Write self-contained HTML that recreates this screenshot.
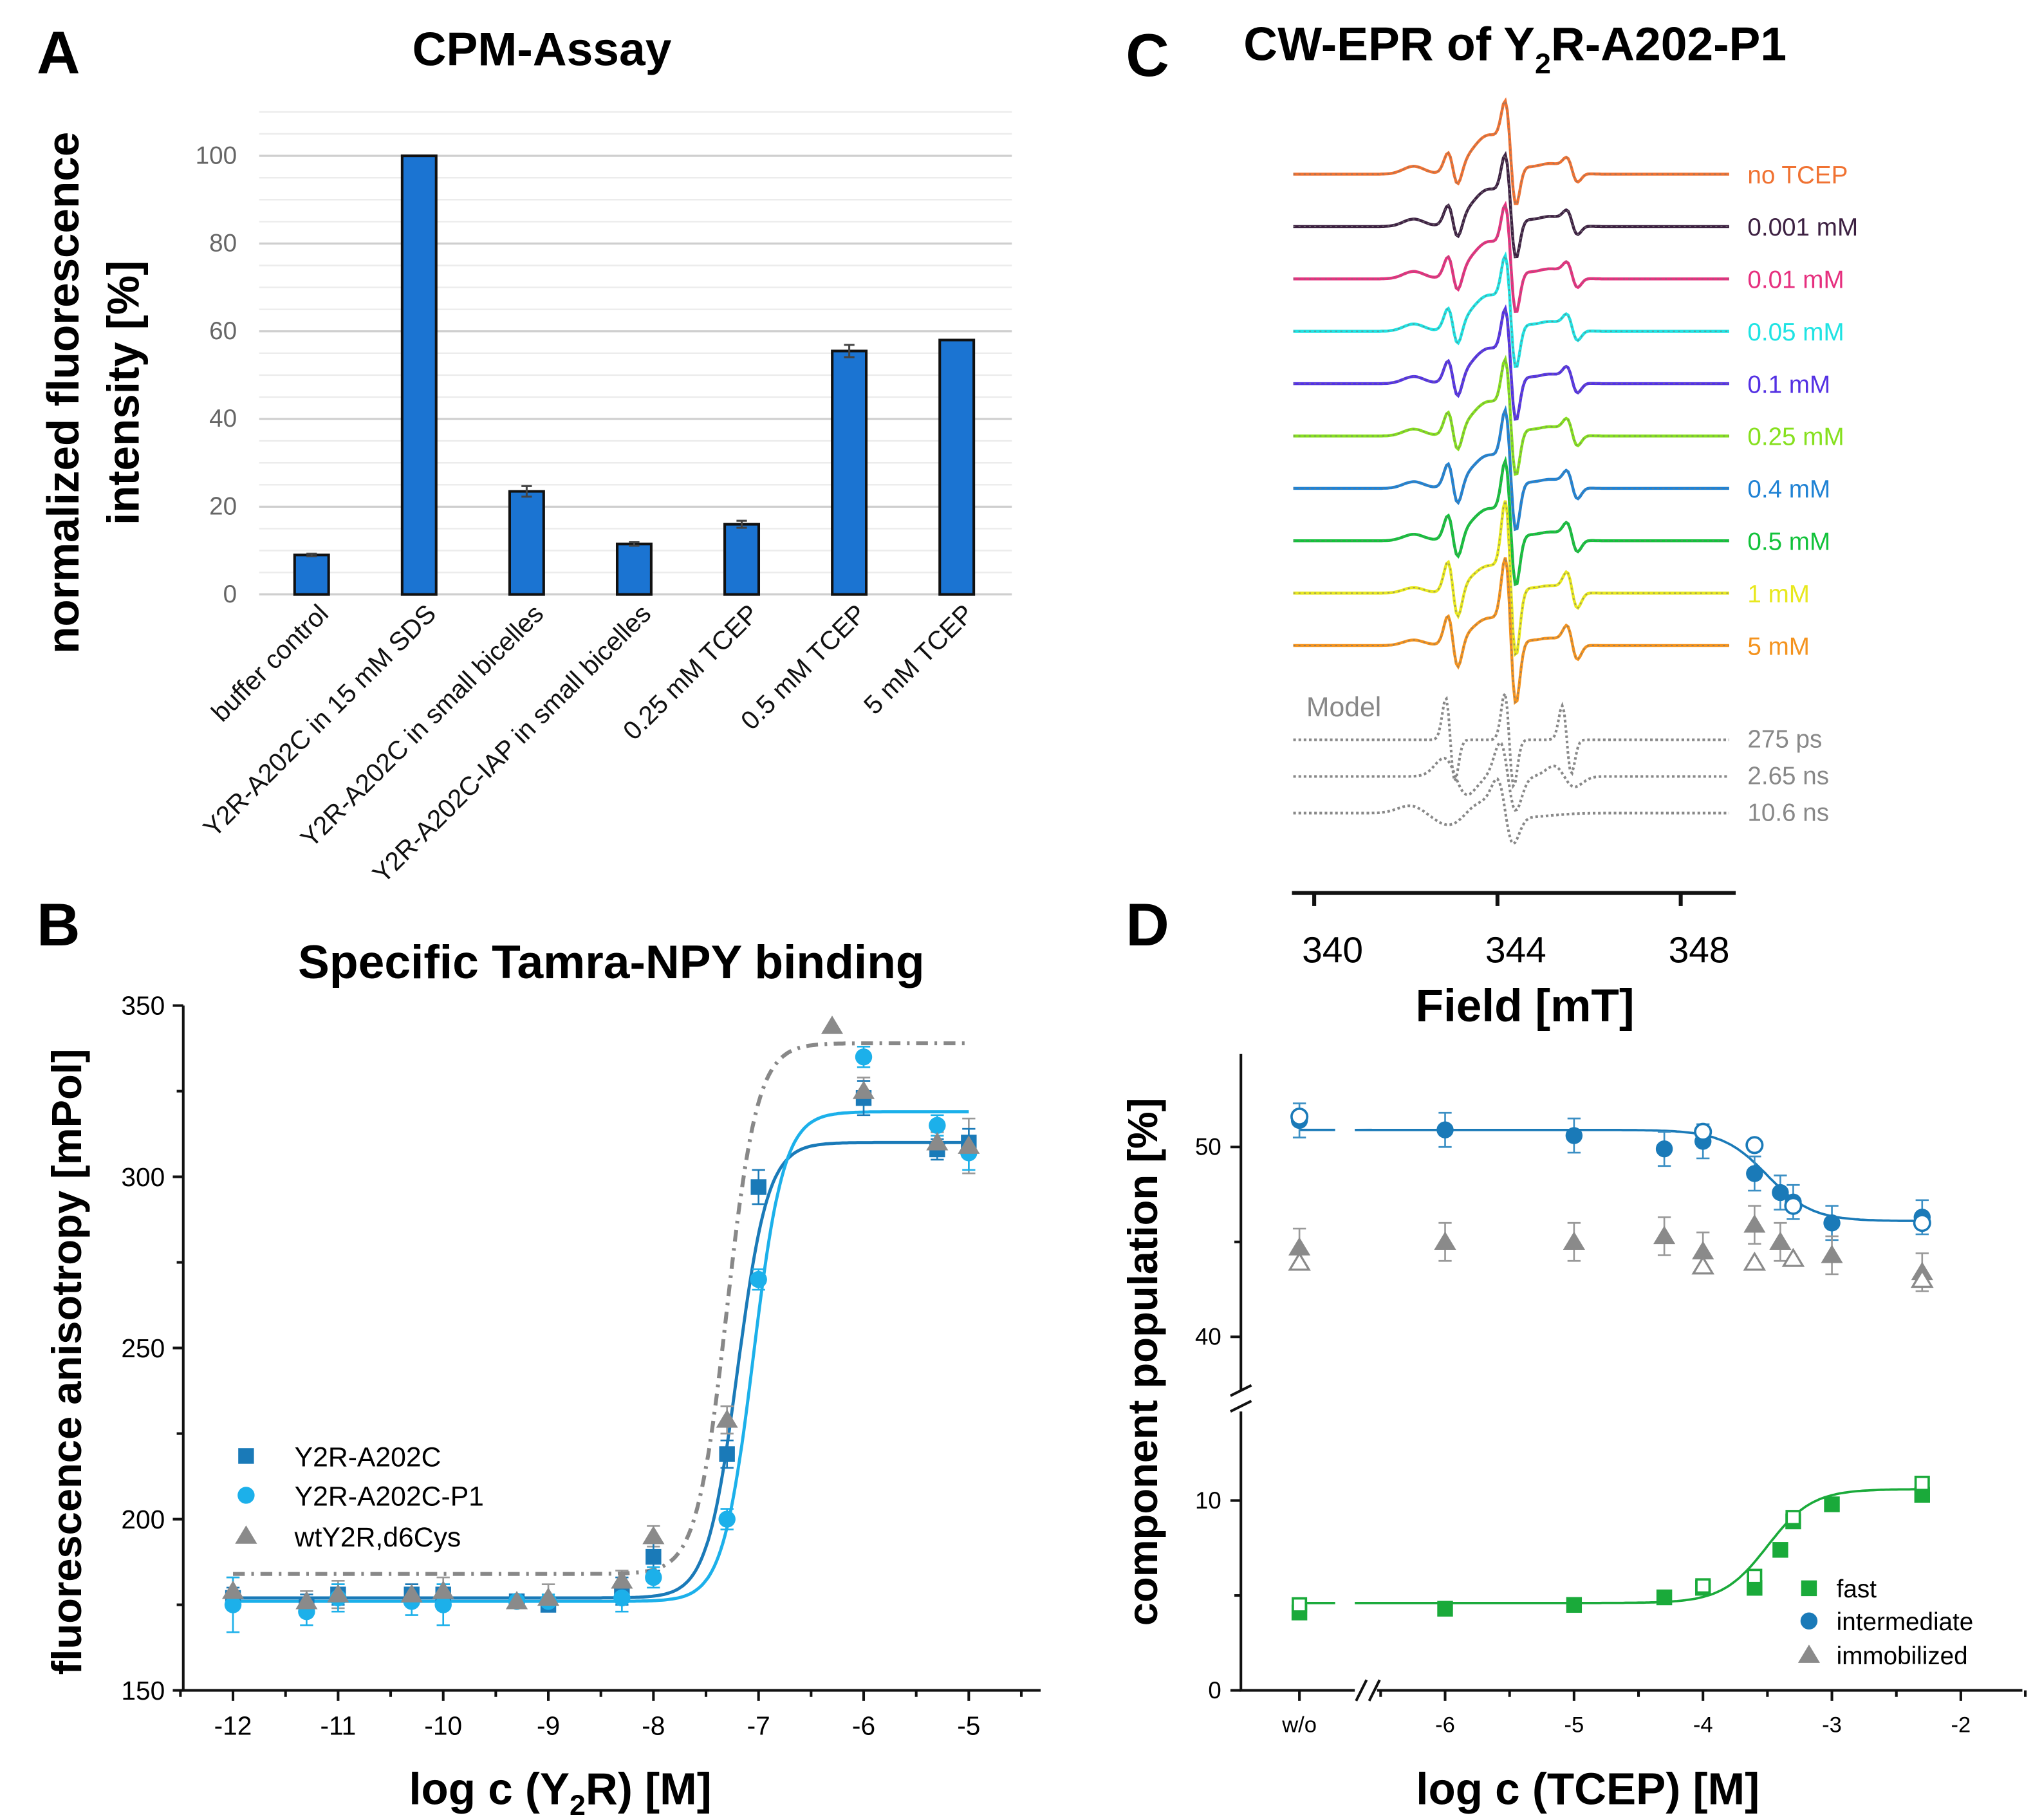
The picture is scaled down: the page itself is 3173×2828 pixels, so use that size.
<!DOCTYPE html>
<html><head><meta charset="utf-8">
<style>
html,body{margin:0;padding:0;background:#fff;}
svg{display:block;font-family:"Liberation Sans",Arial,sans-serif;}
</style></head>
<body>
<svg id="fig" width="3173" height="2828" viewBox="0 0 1560 1390" preserveAspectRatio="none" xmlns="http://www.w3.org/2000/svg">
<rect width="1560" height="1390" fill="#fff"/>
<text x="28" y="56" font-size="46" font-weight="bold">A</text>
<text x="414" y="50" font-size="36" font-weight="bold" text-anchor="middle">CPM-Assay</text>
<text x="860" y="58" font-size="46" font-weight="bold">C</text>
<text x="950" y="46" font-size="36" font-weight="bold">CW-EPR of Y<tspan font-size="22" dy="10">2</tspan><tspan dy="-10">R-A202-P1</tspan></text>
<text x="28" y="722" font-size="46" font-weight="bold">B</text>
<text x="467" y="747" font-size="36" font-weight="bold" text-anchor="middle">Specific Tamra-NPY binding</text>
<text x="860" y="722" font-size="46" font-weight="bold">D</text>
<g id="A"></g><g id="B"></g><g id="C"></g><g id="D"></g>
</svg>
<script>
// ---------- Panel A data ----------
const aCategories = ["buffer control","Y2R-A202C in 15 mM SDS","Y2R-A202C in small bicelles","Y2R-A202C-IAP in small bicelles","0.25 mM TCEP","0.5 mM TCEP","5 mM TCEP"];
const aValues = [9, 100, 23.5, 11.5, 16, 55.5, 58];
const aErrors = [0.3, 0, 1.2, 0.4, 0.8, 1.4, 0];
const aTicks = [0, 20, 40, 60, 80, 100];

// ---------- Panel B data ----------
const bTicksX = [-12,-11,-10,-9,-8,-7,-6,-5];
const bTicksY = [150,200,250,300,350];
const bX1 = [-12,-11.3,-11,-10.3,-10,-9.3,-9,-8.3,-8,-7.3,-7,-6,-5.3,-5];
const bA202C = [177,175,178,178,178,176,175,179,189,219,297,323,308,310];
const bA202CErr = [3,3,3,3,3,2,2,4,4,4,5,5,3,4];
const bP1 = [175,173,177,176,175,176,176,177,183,200,270,335,315,307];
const bP1Err = [8,4,4,4,6,2,2,4,3,3,3,3,3,5];
const bX3 = [-12,-11.3,-11,-10.3,-10,-9.3,-9,-8.3,-8,-7.3,-6.3,-6,-5.3,-5];
const bWt = [179,176,178,178,179,176,177,182,195,229,344,325,310,309];
const bWtErr = [4,3,4,3,4,2,4,3,3,4,0,4,3,8];
const bFitA202C = [177,310,-7.2,3];
const bFitP1 = [176,319,-7.05,3];
const bFitWt = [184,339,-7.3,3];

// ---------- Panel C data ----------
const cLabels = ["no TCEP","0.001 mM","0.01 mM","0.05 mM","0.1 mM","0.25 mM","0.4 mM","0.5 mM","1 mM","5 mM"];
const cColors = ["#f07232","#3d2142","#e6307f","#1fe3e3","#5431e3","#86e01e","#1f82d4","#12c23a","#e8e81e","#f4931e"];
const cSharp = [1.0,1.0,1.05,1.1,1.1,1.15,1.2,1.25,1.6,1.5];
const cBroad = [1.0,0.95,0.95,0.92,0.9,0.88,0.85,0.82,0.7,0.7];
const cModelLabels = ["275 ps","2.65 ns","10.6 ns"];
const cFieldTicks = [340,344,348];

// ---------- Panel D data ----------
const dTicksX = ["w/o",-6,-5,-4,-3,-2];
const dX = ["w/o",-6,-5,-4.3,-4,-3.6,-3.4,-3.3,-3,-2.3];
const dInter = [51.4,50.9,50.6,49.9,50.3,48.6,47.6,47.1,46.0,46.3];
const dImmob = [44.7,45.0,45.0,45.3,44.5,45.9,45.0,null,44.3,43.4];
const dFast = [4.1,4.3,4.5,4.9,5.4,5.4,7.4,8.9,9.8,10.3];
const dXo = ["w/o",-4,-3.6,-3.3,-2.3];
const dInterOpen = [51.6,50.8,50.1,46.9,46.0];
const dImmobOpen = [43.9,43.7,43.9,44.1,43.0];
const dFastOpen = [4.5,5.5,6.0,9.1,10.9];
const dFitInter = [50.9,46.1,-3.5,2.5];
const dFitFast = [4.6,10.6,-3.5,2.5];

const NS="http://www.w3.org/2000/svg";
function mk(parent,tag,attrs,txt){const e=document.createElementNS(NS,tag);for(const k in attrs)e.setAttribute(k,attrs[k]);if(txt!==undefined)e.textContent=txt;parent.appendChild(e);return e;}
function hill(p,x){return p[0]+(p[1]-p[0])/(1+Math.pow(10,(p[2]-x)*p[3]));}

// ================= Panel A =================
(function(){
 const g=document.getElementById('A');
 const x0=198,x1=773,yz=454,ppu=3.35;
 const ys=v=>yz-v*ppu;
 for(let v=0;v<=110;v+=5){
   const l=mk(g,'line',{x1:x0,x2:x1,y1:ys(v),y2:ys(v),stroke:v%20==0?'#cfcfcf':'#ececec','stroke-width':v%20==0?1.6:1.2});
   
   
 }
 aTicks.forEach(v=>{const t=mk(g,'text',{x:181,y:ys(v)+6,'font-size':19,fill:'#666','text-anchor':'end'},String(v));
   
   });
 const step=(x1-x0)/aCategories.length;
 aCategories.forEach((c,i)=>{
   const cx=x0+step*(i+0.5)-1;
   const b=mk(g,'rect',{x:cx-13,y:ys(aValues[i]),width:26,height:aValues[i]*ppu,fill:'#1b74d2',stroke:'#111','stroke-width':2});
   
   
   if(aErrors[i]>0){const e=mk(g,'path',{d:`M${cx-4},${ys(aValues[i]+aErrors[i])}h8M${cx},${ys(aValues[i]+aErrors[i])}V${ys(aValues[i]-aErrors[i])}M${cx-4},${ys(aValues[i]-aErrors[i])}h8`,stroke:'#444','stroke-width':1.5,fill:'none'});
     
     }
   const t=mk(g,'text',{x:cx+14,y:470,'font-size':20,fill:'#111','text-anchor':'end',transform:`rotate(-45 ${cx+14} 470)`},c);
   
   
 });
 const yl=mk(g,'text',{x:0,y:0,'font-size':34,'font-weight':'bold','text-anchor':'middle',transform:'translate(60 300) rotate(-90)'},'normalized fluorescence');
 
 
 const yl2=mk(g,'text',{x:0,y:0,'font-size':34,'font-weight':'bold','text-anchor':'middle',transform:'translate(106 300) rotate(-90)'},'intensity [%]');
 
 
})();

// ================= Panel B =================
(function(){
 const g=document.getElementById('B');
 const xs=v=>178+(v+12)*80.3, ys=v=>1291-(v-150)*2.615;
 const ax=mk(g,'path',{d:'M140,768V1291H795',stroke:'#111','stroke-width':2,fill:'none'});
 
 
 for(let v=150;v<=350;v+=25){const t=mk(g,'line',{x1:140,x2:v%50==0?132:135,y1:ys(v),y2:ys(v),stroke:'#111','stroke-width':2});
   
   }
 bTicksY.forEach(v=>{const t=mk(g,'text',{x:126,y:ys(v)+7,'font-size':20,'text-anchor':'end'},String(v));
   
   });
 for(let v=-12.5;v<=-4.4;v+=0.5){const t=mk(g,'line',{x1:xs(v),x2:xs(v),y1:1291,y2:Number.isInteger(v)?1299:1296,stroke:'#111','stroke-width':2});
   
   }
 bTicksX.forEach(v=>{const t=mk(g,'text',{x:xs(v),y:1325,'font-size':20,'text-anchor':'middle'},String(v));
   
   });
 function fit(p,col,dash,name){let d='';for(let x=-12;x<=-5;x+=0.02)d+=(d?'L':'M')+xs(x).toFixed(1)+','+ys(hill(p,x)).toFixed(1);
   const l=mk(g,'path',{d,stroke:col,'stroke-width':dash?3:2.4,fill:'none','stroke-dasharray':dash||'none'});
   
   }
 fit(bFitWt,'#888','9,5,2,5','fit-wt');
 fit(bFitA202C,'#1a7ab8',null,'fit-a202c');
 fit(bFitP1,'#1cb0ea',null,'fit-p1');
 function errs(X,Y,E,col){X.forEach((x,i)=>{if(!E[i])return;const cx=xs(x);const e=mk(g,'path',{d:`M${cx-5},${ys(Y[i]+E[i])}h10M${cx},${ys(Y[i]+E[i])}V${ys(Y[i]-E[i])}M${cx-5},${ys(Y[i]-E[i])}h10`,stroke:col,'stroke-width':1.3,fill:'none'});
   
   });}
 errs(bX3,bWt,bWtErr,'#999');errs(bX1,bA202C,bA202CErr,'#1a7ab8');errs(bX1,bP1,bP1Err,'#1cb0ea');
 function tri(x,y,s,col,open){return mk(g,'path',{d:`M${x},${y-s}L${x+s*1.05},${y+s*0.75}H${x-s*1.05}Z`,fill:open?'none':col,stroke:col,'stroke-width':open?1.6:0});}
 bX1.forEach((x,i)=>{const m=mk(g,'rect',{x:xs(x)-6,y:ys(bA202C[i])-6,width:12,height:12,fill:'#1a7ab8'});
   
   });
 bX1.forEach((x,i)=>{const m=mk(g,'circle',{cx:xs(x),cy:ys(bP1[i]),r:6.5,fill:'#1cb0ea'});
   
   });
 bX3.forEach((x,i)=>{const m=tri(xs(x),ys(bWt[i]),8,'#8a8a8a',false);
   
   });
 const lg=[['Y2R-A202C','sq','#1a7ab8',1112],['Y2R-A202C-P1','ci','#1cb0ea',1142],['wtY2R,d6Cys','tr','#8a8a8a',1173]];
 lg.forEach(([t,s,c,y])=>{let m;
   if(s=='sq')m=mk(g,'rect',{x:182,y:y-6,width:12,height:12,fill:c});
   else if(s=='ci')m=mk(g,'circle',{cx:188,cy:y,r:6.5,fill:c});
   else m=tri(188,y,8,c,false);
   
   
   const tx=mk(g,'text',{x:225,y:y+8,'font-size':21},t);
   
   });
 const yl=mk(g,'text',{x:0,y:0,'font-size':32,'font-weight':'bold','text-anchor':'middle',transform:'translate(62 1040) rotate(-90)'},'fluorescence anisotropy [mPol]');
 
 
 const xl=mk(g,'text',{x:428,y:1378,'font-size':34,'font-weight':'bold','text-anchor':'middle'});
 xl.innerHTML='log c (Y<tspan font-size="22" dy="8">2</tspan><tspan dy="-8">R) [M]</tspan>';
 
 
})();

// ================= Panel C =================
(function(){
 const g=document.getElementById('C');
 const dg=(x,c,w,A)=>{const u=(x-c)/w;return -A*u*Math.exp(0.5-u*u/2);};
 const ga=(x,c,w,A)=>{const u=(x-c)/w;return A*Math.exp(-u*u/2);};
 function spec(x,s,b){
   return b*(ga(x,1080,8,6)+ga(x,1138,14,30)+ga(x,1185,12,8)) + s*(dg(x,1110,4,14)+dg(x,1154,4,35)+dg(x,1201,4,8));
 }
 cLabels.forEach((lab,i)=>{
   const base=133+i*40;let d='';
   for(let x=988;x<=1322;x+=1.5)d+=(d?'L':'M')+x.toFixed(1)+','+(base-spec(x,cSharp[i],cBroad[i])).toFixed(1);
   const p=mk(g,'path',{d,stroke:cColors[i],'stroke-width':2.2,fill:'none'});
   
   
   const p2=mk(g,'path',{d,stroke:'#777','stroke-width':1,fill:'none','stroke-dasharray':'1.5,2.5',opacity:0.7});
   
   
   const t=mk(g,'text',{x:1335,y:base+7,'font-size':19,fill:cColors[i]},lab);
   
   
 });
 const models=[
   x=>dg(x,1108,3.5,32)+dg(x,1153,3.5,36)+dg(x,1197,3.5,26),
   x=>dg(x,1112,9,14)+dg(x,1152,6,26)+dg(x,1195,8,8),
   x=>ga(x,1078,10,6)+dg(x,1120,14,-9)+dg(x,1150,6,22)+ga(x,1165,20,-3)
 ];
 const mb=[565,593,621];
 const ml=mk(g,'text',{x:998,y:547,'font-size':21,fill:'#888'},'Model');
 
 
 models.forEach((f,i)=>{let d='';for(let x=988;x<=1322;x+=1.5)d+=(d?'L':'M')+x.toFixed(1)+','+(mb[i]-f(x)).toFixed(1);
   const p=mk(g,'path',{d,stroke:'#888','stroke-width':2,fill:'none','stroke-dasharray':'2,2'});
   
   
   const t=mk(g,'text',{x:1335,y:mb[i]+6,'font-size':19,fill:'#888'},cModelLabels[i]);
   
   });
 const fx=v=>1004+(v-340)*35;
 const ax=mk(g,'line',{x1:987,x2:1326,y1:682,y2:682,stroke:'#111','stroke-width':3});
 
 
 cFieldTicks.forEach(v=>{const t=mk(g,'line',{x1:fx(v),x2:fx(v),y1:682,y2:692,stroke:'#111','stroke-width':3});
   
   
   const l=mk(g,'text',{x:fx(v)+14,y:735,'font-size':28,'text-anchor':'middle'},String(v));
   
   });
 const xl=mk(g,'text',{x:1165,y:780,'font-size':35,'font-weight':'bold','text-anchor':'middle'},'Field [mT]');
 
 
})();

// ================= Panel D =================
(function(){
 const g=document.getElementById('D');
 const num=v=>v==="w/o"?-7.13:v;
 const xs=v=>1104+(num(v)+6)*98.5;
 const ys=v=>v>=30?876-(v-50)*14.5:1291-v*14.5;
 const ax=mk(g,'path',{d:'M948,805V1062M948,1078V1291H1035M1052,1291H1545',stroke:'#111','stroke-width':2,fill:'none'});
 
 
 const br=mk(g,'path',{d:'M940,1066l16,-8M940,1078l16,-8M1036,1299l8,-16M1046,1299l8,-16',stroke:'#111','stroke-width':2});
 
 
 [[40,1],[45,0],[50,1],[0,1],[5,0],[10,1]].forEach(([v,maj])=>{const t=mk(g,'line',{x1:948,x2:maj?940:943,y1:ys(v),y2:ys(v),stroke:'#111','stroke-width':2});
   
   
   if(maj){const l=mk(g,'text',{x:933,y:ys(v)+6,'font-size':18,'text-anchor':'end'},String(v));
     
     }});
 for(let v=-6.5;v<=-1.5;v+=0.5){const t=mk(g,'line',{x1:xs(v),x2:xs(v),y1:1291,y2:Number.isInteger(v)?1299:1296,stroke:'#111','stroke-width':2});
   
   }
 const tw=mk(g,'line',{x1:xs('w/o'),x2:xs('w/o'),y1:1291,y2:1299,stroke:'#111','stroke-width':2});
 
 
 dTicksX.forEach(v=>{const l=mk(g,'text',{x:xs(v),y:1323,'font-size':17,'text-anchor':'middle'},String(v));
   
   });
 function fit(p,col,name){let d='M'+xs('w/o')+','+ys(p[0])+'H1020M1048,'+ys(p[0]);
   for(let x=-6.7;x<=-2.3;x+=0.02)d+='L'+xs(x).toFixed(1)+','+ys(hill([p[0],p[1],p[2],p[3]],x)).toFixed(1);
   const l=mk(g,'path',{d,stroke:col,'stroke-width':1.8,fill:'none'});
   
   }
 fit(dFitInter,'#1a7ab8','fit-intermediate');
 fit(dFitFast,'#1aaa3a','fit-fast');
 function eb(x,y,e,col){const cx=xs(x);const p=mk(g,'path',{d:`M${cx-5},${ys(y+e)}h10M${cx},${ys(y+e)}V${ys(y-e)}M${cx-5},${ys(y-e)}h10`,stroke:col,'stroke-width':1.3,fill:'none'});
   
   }
 dX.forEach((x,i)=>{eb(x,dInter[i],0.9,'#3b8fc4');if(dImmob[i]!=null)eb(x,dImmob[i],1.0,'#999');});
 function tri(x,y,s,col,open){return mk(g,'path',{d:`M${x},${y-s}L${x+s*1.05},${y+s*0.75}H${x-s*1.05}Z`,fill:open?'#fff':col,stroke:col,'stroke-width':open?1.6:0});}
 dX.forEach((x,i)=>{if(dImmob[i]==null)return;const m=tri(xs(x),ys(dImmob[i]),8,'#8a8a8a',false);
   
   });
 dXo.forEach((x,i)=>{const m=tri(xs(x),ys(dImmobOpen[i]),7,'#8a8a8a',true);
   
   });
 dX.forEach((x,i)=>{const m=mk(g,'circle',{cx:xs(x),cy:ys(dInter[i]),r:6.5,fill:'#1a7ab8'});
   
   });
 dXo.forEach((x,i)=>{const m=mk(g,'circle',{cx:xs(x),cy:ys(dInterOpen[i]),r:6,fill:'#fff',stroke:'#1a7ab8','stroke-width':1.8});
   
   });
 dX.forEach((x,i)=>{const m=mk(g,'rect',{x:xs(x)-6,y:ys(dFast[i])-6,width:12,height:12,fill:'#1aaa3a'});
   
   });
 dXo.forEach((x,i)=>{const m=mk(g,'rect',{x:xs(x)-5,y:ys(dFastOpen[i])-5,width:10,height:10,fill:'#fff',stroke:'#1aaa3a','stroke-width':1.8});
   
   });
 const lg=[['fast','sq','#1aaa3a',1213],['intermediate','ci','#1a7ab8',1238],['immobilized','tr','#8a8a8a',1264]];
 lg.forEach(([t,s,c,y])=>{let m;
   if(s=='sq')m=mk(g,'rect',{x:1376,y:y-6,width:12,height:12,fill:c});
   else if(s=='ci')m=mk(g,'circle',{cx:1382,cy:y,r:6.5,fill:c});
   else m=tri(1382,y,8,c,false);
   
   
   const tx=mk(g,'text',{x:1403,y:y+7,'font-size':19},t);
   
   });
 const yl=mk(g,'text',{x:0,y:0,'font-size':32,'font-weight':'bold','text-anchor':'middle',transform:'translate(884 1040) rotate(-90)'},'component population [%]');
 
 
 const xl=mk(g,'text',{x:1213,y:1378,'font-size':34,'font-weight':'bold','text-anchor':'middle'},'log c (TCEP) [M]');
 
 
})();
</script>
</body></html>
